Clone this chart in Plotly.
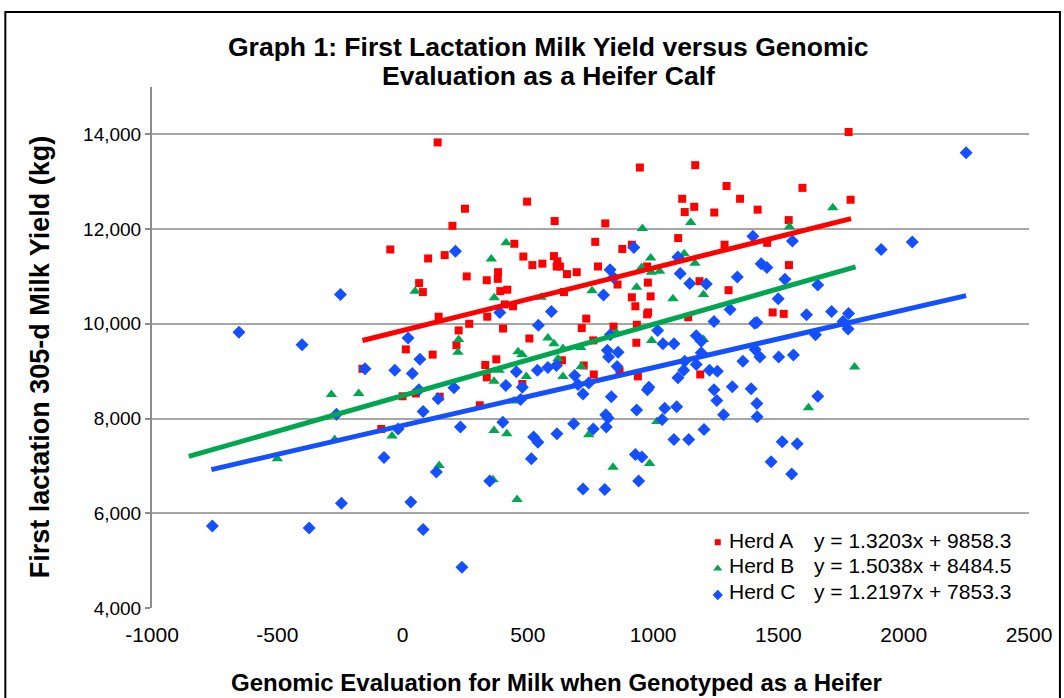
import plotly.graph_objects as go

# ---------------- data ----------------
herd_a_x = [140, -49, 102, 168, 66, 81, 144, 13, 120, -160, 947, 1168, 1293, 497, 249, 199, 607, 809,
            1116, 1126, 1164, 1244, 1347, 446, 769, 877, 915, 1100, 1285, 482, 518, 558, 604, 618, 615,
            628, 656, 695, 780, 858, 976, 1185, 1301, 381, 380, 256, 336, 390, 418, 408, 441, 338, 266,
            224, 401, 215, 506, 644, 979, 915, 990, 929, 980, 976, 1140, 733, 715, 842, 935, 933, 761,
            374, 330, 636, 723, 1780, 1596, 1417, 1788, 1541, 1455, 1542, 1477, 1521, 1188, 939, 336,
            478, 763, 866, 148, 0, 53, 308, -85]
herd_a_y = [13830, 11570, 11380, 11450, 10860, 10670, 10150, 9460, 9350, 9050, 13300, 13350, 12910,
            12580, 12430, 12070, 12170, 12120, 12640, 12360, 12470, 12350, 12640, 11690, 11730, 11580,
            11670, 11810, 11670, 11420, 11240, 11270, 11430, 11320, 11210, 11210, 11050, 11090, 11210,
            10830, 11210, 10900, 10710, 11090, 10950, 11000, 10920, 10690, 10720, 10410, 10370, 10150,
            10000, 9860, 9900, 9550, 9690, 10670, 10870, 10560, 10580, 10370, 10240, 10200, 10140,
            10110, 9910, 9940, 9980, 9600, 9650, 9250, 9130, 9230, 9120, 14050, 12870, 12410, 12620,
            12190, 11710, 11240, 10240, 10210, 8930, 8890, 8870, 8730, 8930, 9000, 8460, 8470, 8530,
            8280, 7780]

herd_b_x = [50, 957, 1150, 413, 354, 990, 954, 993, 1026, 1124, 1167, 1201, 366, 224, 221, 553, 756,
            934, 1079, 994, 1201, 580, 604, 640, 711, 461, 477, 620, 713, 1717, 1544, 1804, 1620, 1015,
            986, 853, 365, 385, 494, 640, 444, -42, 365, 416, 743, 146, 361, 840, 457, -284, -175,
            -271, -500]
herd_b_y = [10690, 12010, 12140, 11710, 11370, 11390, 11190, 11090, 11110, 11480, 11280, 10620, 10550,
            9670, 9400, 10560, 10700, 10770, 10530, 9650, 9670, 9700, 9580, 9480, 9500, 9410, 9350,
            9260, 9100, 12450, 12050, 9090, 8230, 7940, 7050, 9810, 8790, 9020, 8890, 8890, 8370,
            7630, 7750, 7680, 7660, 7010, 6710, 6970, 6290, 8510, 8530, 7560, 7150]

herd_c_x = [-248, -653, -401, 22, 69, -150, -31, 211, 923, 828, 842, 1099, 1108, 1146, 1212, 1336, 388,
            594, 802, 1307, 1243, 542, 1018, 1039, 1083, 1172, 1192, 817, 860, 822, 856, 1126, 1172,
            1192, 2249, 1398, 1556, 1910, 2034, 1431, 1454, 1526, 1657, 1499, 1612, 1712, 1780, 1405,
            1414, 1758, 1778, 1648, 1407, 1358, 1426, 1501, 1560, 1316, 1391, 1414, 1415, 1657, 1515,
            1575, 1471, 1553, 1122, 1099, 1225, 1256, 983, 977, 1243, 1254, 934, 1046, 1094, 1036,
            1281, 1203, 1083, 1142, 929, 955, 942, 39, 454, 412, 478, 538, 580, 614, 687, 720, 700,
            743, 833, 471, 205, 142, 65, 82, -18, 231, 400, 523, 540, 616, 683, 761, 811, 820, 813,
            -74, 135, 514, 348, 720, 807, 237, -264, -244, 33, -759, -373, 82, 829]
herd_c_y = [10620, 9820, 9560, 9700, 9250, 9050, 9020, 11530, 11610, 11140, 10980, 11410, 11060, 10850,
            10840, 10990, 10240, 10260, 10610, 10300, 10050, 9970, 9860, 9580, 9580, 9750, 9630, 9440,
            9400, 9300, 9100, 9210, 9140, 9390, 13610, 11850, 11750, 11570, 11730, 11270, 11190, 10940,
            10820, 10530, 10190, 10260, 10220, 10010, 10030, 10050, 9890, 9770, 9460, 9210, 9300, 9300,
            9340, 8670, 8630, 8320, 8040, 8470, 7510, 7470, 7090, 6830, 9020, 8860, 9020, 9000, 8660,
            8610, 8610, 8380, 8180, 8220, 8250, 7980, 8080, 7770, 7560, 7560, 7240, 7190, 6680, 8950,
            8990, 8700, 8660, 9020, 9080, 9120, 8910, 8520, 8720, 8750, 8460, 8400, 8650, 8420, 8610,
            8150, 7780, 7820, 7920, 7610, 7500, 7680, 7890, 7780, 8080, 8010, 7820, 7180, 6870, 7150,
            6680, 6510, 6500, 4860, 8090, 6210, 6240, 5730, 5690, 5660, 9770]

herd_names = ["Herd A", "Herd B", "Herd C"]
slopes = [1.3203, 1.5038, 1.2197]
intercepts = [9858.3, 8484.5, 7853.3]
trend_x_start = [-160, -853, -763]
trend_x_end = [1790, 1808, 2249]
equation_labels = ["y = 1.3203x + 9858.3", "y = 1.5038x + 8484.5", "y = 1.2197x + 7853.3"]

title_lines = ["Graph 1: First Lactation Milk Yield versus Genomic", "Evaluation as a Heifer Calf"]
x_title = "Genomic Evaluation for Milk when Genotyped as a Heifer"
y_title = "First lactation 305-d Milk Yield (kg)"

x_ticks = [-1000, -500, 0, 500, 1000, 1500, 2000, 2500]
y_ticks = [4000, 6000, 8000, 10000, 12000, 14000]

# ---------------- styles ----------------
colors = ["#FF0000", "#00A650", "#1450FF"]
symbols = ["square", "triangle-up", "diamond"]
sizes = [8, 10, 10]
legend_sizes = [6, 8, 8]
FONT = "Liberation Sans, Arial, sans-serif"

fig = go.Figure()
xs = [herd_a_x, herd_b_x, herd_c_x]
ys = [herd_a_y, herd_b_y, herd_c_y]
for i in range(3):
    fig.add_trace(go.Scatter(
        x=xs[i], y=ys[i], mode="markers", name=herd_names[i], showlegend=False,
        legendgroup=herd_names[i],
        marker=dict(symbol=symbols[i], size=sizes[i], color=colors[i], line=dict(width=0)),
    ))
for i in range(3):
    tx = [trend_x_start[i], trend_x_end[i]]
    ty = [slopes[i] * v + intercepts[i] for v in tx]
    fig.add_trace(go.Scatter(
        x=tx, y=ty, mode="lines", showlegend=False, hoverinfo="skip",
        line=dict(color=colors[i], width=5),
    ))
# legend keys only (the entry labels are drawn as annotations next to them)
for i in range(3):
    fig.add_trace(go.Scatter(
        x=[None], y=[None], mode="markers", name=" ", legendgroup=herd_names[i],
        marker=dict(symbol=symbols[i], size=legend_sizes[i], color=colors[i], line=dict(width=0)),
    ))

W, H = 1064, 698
L, R, T, B = 152, 33, 87, 90
pw, ph = W - L - R, H - T - B


def px(xp):
    return (xp - L) / pw


def py(yp):
    return (H - B - yp) / ph


annotations = []
for k, yy in enumerate([47, 76]):
    annotations.append(dict(text="<b>%s</b>" % title_lines[k], x=px(549), y=py(yy),
                            xref="paper", yref="paper", showarrow=False,
                            font=dict(size=26.5, color="black", family=FONT),
                            xanchor="center", yanchor="middle"))
annotations.append(dict(text="<b>%s</b>" % y_title, textangle=-90,
                        x=px(40), y=py(357), xref="paper", yref="paper", showarrow=False,
                        font=dict(size=27, color="black", family=FONT),
                        xanchor="center", yanchor="middle"))
annotations.append(dict(text="<b>%s</b>" % x_title,
                        x=px(557), y=py(682), xref="paper", yref="paper", showarrow=False,
                        font=dict(size=24, color="black", family=FONT),
                        xanchor="center", yanchor="middle"))
row_y = [540, 565, 591]
for i in range(3):
    annotations.append(dict(text=herd_names[i], x=px(728), y=py(row_y[i]),
                            xref="paper", yref="paper", showarrow=False,
                            font=dict(size=21, color="black", family=FONT),
                            xanchor="left", yanchor="middle"))
    annotations.append(dict(text=equation_labels[i], x=px(814), y=py(row_y[i]),
                            xref="paper", yref="paper", showarrow=False,
                            font=dict(size=21, color="black", family=FONT),
                            xanchor="left", yanchor="middle"))

fig.update_layout(
    width=W, height=H,
    margin=dict(l=L, r=R, t=T, b=B),
    paper_bgcolor="white", plot_bgcolor="white",
    font=dict(family=FONT, size=20, color="black"),
    showlegend=True,
    legend=dict(x=px(699), y=py(524), xanchor="left", yanchor="top",
                font=dict(size=18, family=FONT, color="black"),
                bgcolor="rgba(255,255,255,0)", tracegroupgap=0, itemwidth=30),
    annotations=annotations,
    shapes=[dict(type="rect", xref="paper", yref="paper",
                 x0=px(5), x1=px(1062), y0=py(760), y1=py(12),
                 line=dict(color="black", width=2), fillcolor="rgba(0,0,0,0)", layer="below")],
)
fig.update_xaxes(range=[-1000, 2500], tickvals=x_ticks, ticktext=[str(v) for v in x_ticks],
                 showgrid=False, zeroline=False, showline=False,
                 ticks="", ticklabelstandoff=12,
                 tickfont=dict(size=21, family=FONT, color="black"))
fig.update_yaxes(range=[4000, 15000], tickvals=y_ticks, tickformat=",d",
                 showgrid=True, gridcolor="#A6A6A6", gridwidth=2, zeroline=False,
                 showline=True, linecolor="#8C8C8C", linewidth=2,
                 ticks="outside", ticklen=5, tickcolor="#8C8C8C", tickwidth=2,
                 tickfont=dict(size=19, family=FONT, color="black"))

fig.write_html("out.html", config={"displayModeBar": False},
               post_script="document.body.style.margin='0';")
